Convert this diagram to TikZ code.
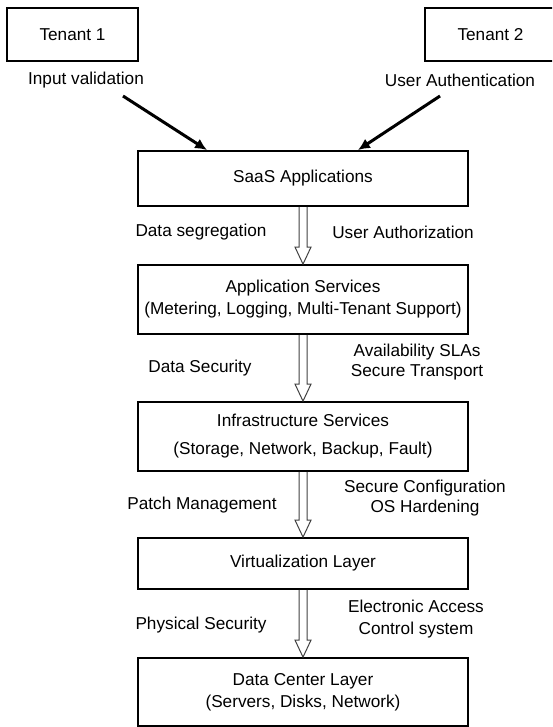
\documentclass[tikz,border=0pt]{standalone}
\usepackage{fontspec}
\setmainfont{Liberation Sans}
\usepackage{tikz}
\usetikzlibrary{arrows.meta}
\newcommand{\hollowarrow}[2]{%
  \draw[hollow] ([xshift=-2pt]#1.south) -- ([xshift=-2pt,yshift=8.5pt]#2.north)
    -- ([xshift=-4pt,yshift=8.5pt]#2.north) -- (#2.north)
    -- ([xshift=4pt,yshift=8.5pt]#2.north) -- ([xshift=2pt,yshift=8.5pt]#2.north)
    -- ([xshift=2pt]#1.south);}

\begin{document}
\begin{tikzpicture}[>=Latex,x=0.5pt,y=-0.5pt,
  every node/.style={font=\fontsize{8.6}{11}\selectfont,inner sep=0pt},
  layer/.style={draw,line width=0.9pt,minimum width=165pt,align=center},
  tenant/.style={draw,line width=0.9pt,minimum width=65.5pt,minimum height=26.5pt},
  lbl/.style={align=center,font=\fontsize{8.6}{10}\selectfont},
  hollow/.style={line width=0.5pt,black!75},
  feed/.style={->,line width=1.5pt,-{Latex[length=6pt,width=5.5pt]}}]
  \useasboundingbox (0,0) rectangle (552,727);
  \clip (0,0) rectangle (552,727);
  % Tenants
  \node[tenant] (t1) at (72.5,34.5) {Tenant 1};
  \node[tenant] (t2) at (490.5,34.5) {Tenant 2};
  \node (lin) at (86,80) {Input validation};
  \node (lua) at (460,80) {User Authentication};
  \coordinate (a1) at (123,96);
  \coordinate (a2) at (440,96);
  % Layers
  \node[layer,minimum height=27.5pt] (saas) at (303,178.5) {SaaS Applications};
  \node[layer,minimum height=34.5pt] (app) at (303,299.5) {Application Services\\(Metering, Logging, Multi-Tenant Support)};
  \node[layer,minimum height=34.5pt] (infra) at (303,436.5) {Infrastructure Services\\[3pt](Storage, Network, Backup, Fault)};
  \node[layer,minimum height=25.5pt] (virt) at (303,563.5) {Virtualization Layer};
  \node[layer,minimum height=34pt] (dc) at (303,692) {Data Center Layer\\(Servers, Disks, Network)};
  % Inputs into SaaS
  \draw[feed] (a1) -- ([xshift=35pt]saas.north west);
  \draw[feed] (a2) -- ([xshift=-55.5pt]saas.north east);
  % Hollow arrows between layers
  \hollowarrow{saas}{app}
  \hollowarrow{app}{infra}
  \hollowarrow{infra}{virt}
  \hollowarrow{virt}{dc}
  % Controls
  \node (lseg) at (201,232) {Data segregation};
  \node (lauthz) at (403,232) {User Authorization};
  \node (ldsec) at (200,368) {Data Security};
  \node[lbl] (lavail) at (417,362) {Availability SLAs\\Secure Transport};
  \node (lpatch) at (202,505) {Patch Management};
  \node[lbl] (lconf) at (425,498) {Secure Configuration\\OS Hardening};
  \node (lphys) at (201,625) {Physical Security};
  \node[lbl,font=\fontsize{8.6}{11}\selectfont] (lelec) at (416,619) {Electronic Access\\Control system};
\end{tikzpicture}
\end{document}
